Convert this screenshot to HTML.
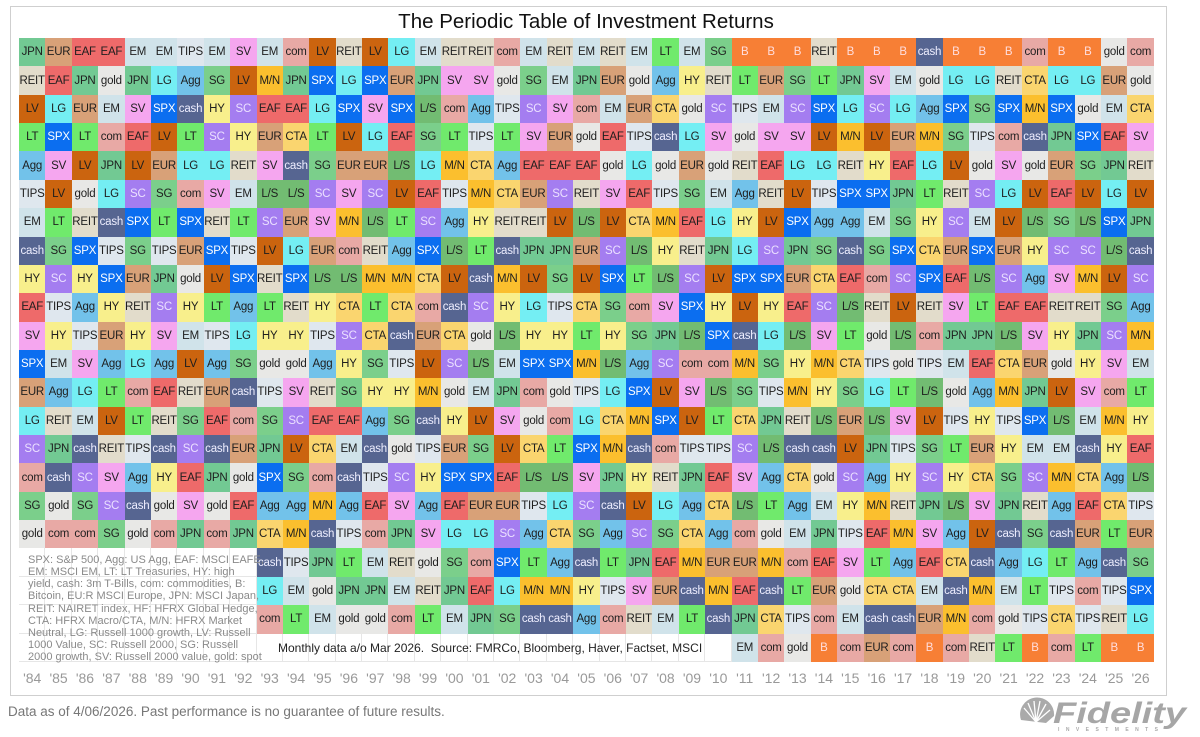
<!DOCTYPE html>
<html><head><meta charset="utf-8">
<style>
html,body{margin:0;padding:0;background:#fff;}
body{width:1200px;height:737px;position:relative;overflow:hidden;font-family:"Liberation Sans",Arial,sans-serif;}
.box{position:absolute;left:10px;top:6px;width:1155px;height:688px;border:1px solid #cfcfcf;}
.title{position:absolute;left:0;width:1172px;top:9px;text-align:center;font-size:20.5px;color:#111;line-height:26px;}
.g{position:absolute;left:19px;top:38px;display:grid;grid-template-columns:repeat(43,26.4px);grid-auto-rows:28.36px;}
.g i{font-style:normal;font-size:11.5px;color:#1e1e1e;display:flex;justify-content:center;align-items:center;white-space:nowrap;letter-spacing:-0.2px;}
.jp{background:#72c993}.sg{background:#7bcf8b}.ls{background:#72bc72}.lt{background:#70ea6c}
.em{background:#d0e3ea}.ti{background:#dfe7ee}.go{background:#e8e8e6}.re{background:#e2dccb}
.eu{background:#d8a178}.ea{background:#ee6a6a}.co{background:#e8a9a5}.sv{background:#f5a6ef}
.lv{background:#cb640f}.lg{background:#74eef3}.ag{background:#72c2ea}.mn{background:#fbbf2e}
.ct{background:#fad56f}.hy{background:#f8ef8c}
.g .sp{background:#0b6ef0;color:#fff}.g .ca{background:#566591;color:#eef}
.g .sc{background:#a47df0;color:#ebe0ff}.g .bt{background:#f77f35;color:#fdd}
.g .w{background:#fff;box-shadow:inset -1px -1px 0 #e6e6e6}
.legend{position:absolute;left:28px;top:554px;font-size:11px;line-height:12.15px;color:#8a8a8a;white-space:nowrap;}
.monthly{position:absolute;left:278px;top:639px;font-size:12px;line-height:18px;color:#222;white-space:pre;}
.yrs{position:absolute;left:19px;top:668px;display:grid;grid-template-columns:repeat(43,26.4px);}
.yrs span{text-align:center;font-size:14px;line-height:20px;color:#999;white-space:nowrap;}
.foot{position:absolute;left:8px;top:703px;font-size:13.5px;line-height:18px;color:#777;white-space:nowrap;}
</style></head><body>
<div class="box"></div>
<div class="title">The Periodic Table of Investment Returns</div>
<div class="g">
<i class=jp>JPN</i><i class=eu>EUR</i><i class=ea>EAF</i><i class=ea>EAF</i><i class=em>EM</i><i class=em>EM</i><i class=ti>TIPS</i><i class=em>EM</i><i class=sv>SV</i><i class=em>EM</i><i class=co>com</i><i class=lv>LV</i><i class=re>REIT</i><i class=lv>LV</i><i class=lg>LG</i><i class=em>EM</i><i class=re>REIT</i><i class=re>REIT</i><i class=co>com</i><i class=em>EM</i><i class=re>REIT</i><i class=em>EM</i><i class=re>REIT</i><i class=em>EM</i><i class=lt>LT</i><i class=em>EM</i><i class=sg>SG</i><i class=bt>B</i><i class=bt>B</i><i class=bt>B</i><i class=re>REIT</i><i class=bt>B</i><i class=bt>B</i><i class=bt>B</i><i class=ca>cash</i><i class=bt>B</i><i class=bt>B</i><i class=bt>B</i><i class=co>com</i><i class=bt>B</i><i class=bt>B</i><i class=go>gold</i><i class=co>com</i>
<i class=re>REIT</i><i class=ea>EAF</i><i class=jp>JPN</i><i class=go>gold</i><i class=jp>JPN</i><i class=lg>LG</i><i class=ag>Agg</i><i class=sg>SG</i><i class=lv>LV</i><i class=mn>M/N</i><i class=jp>JPN</i><i class=sp>SPX</i><i class=lg>LG</i><i class=sp>SPX</i><i class=eu>EUR</i><i class=jp>JPN</i><i class=sv>SV</i><i class=sv>SV</i><i class=go>gold</i><i class=sg>SG</i><i class=em>EM</i><i class=jp>JPN</i><i class=eu>EUR</i><i class=go>gold</i><i class=ag>Agg</i><i class=hy>HY</i><i class=re>REIT</i><i class=lt>LT</i><i class=eu>EUR</i><i class=sg>SG</i><i class=lt>LT</i><i class=jp>JPN</i><i class=sv>SV</i><i class=em>EM</i><i class=go>gold</i><i class=lg>LG</i><i class=lg>LG</i><i class=re>REIT</i><i class=ct>CTA</i><i class=lg>LG</i><i class=lg>LG</i><i class=eu>EUR</i><i class=go>gold</i>
<i class=lv>LV</i><i class=lg>LG</i><i class=eu>EUR</i><i class=em>EM</i><i class=sv>SV</i><i class=sp>SPX</i><i class=ca>cash</i><i class=hy>HY</i><i class=sc>SC</i><i class=ea>EAF</i><i class=ea>EAF</i><i class=lg>LG</i><i class=sp>SPX</i><i class=sv>SV</i><i class=sp>SPX</i><i class=ls>L/S</i><i class=co>com</i><i class=ag>Agg</i><i class=ti>TIPS</i><i class=sc>SC</i><i class=sv>SV</i><i class=co>com</i><i class=em>EM</i><i class=eu>EUR</i><i class=ct>CTA</i><i class=go>gold</i><i class=sc>SC</i><i class=ti>TIPS</i><i class=em>EM</i><i class=sc>SC</i><i class=sp>SPX</i><i class=lg>LG</i><i class=sc>SC</i><i class=lg>LG</i><i class=ag>Agg</i><i class=sp>SPX</i><i class=sg>SG</i><i class=sp>SPX</i><i class=mn>M/N</i><i class=sp>SPX</i><i class=go>gold</i><i class=em>EM</i><i class=ct>CTA</i>
<i class=lt>LT</i><i class=sp>SPX</i><i class=lt>LT</i><i class=co>com</i><i class=ea>EAF</i><i class=lv>LV</i><i class=lt>LT</i><i class=sc>SC</i><i class=hy>HY</i><i class=eu>EUR</i><i class=ct>CTA</i><i class=lt>LT</i><i class=lv>LV</i><i class=lg>LG</i><i class=ea>EAF</i><i class=sg>SG</i><i class=lt>LT</i><i class=ti>TIPS</i><i class=lt>LT</i><i class=sv>SV</i><i class=eu>EUR</i><i class=go>gold</i><i class=ea>EAF</i><i class=ti>TIPS</i><i class=ca>cash</i><i class=lg>LG</i><i class=sv>SV</i><i class=go>gold</i><i class=sv>SV</i><i class=sv>SV</i><i class=lv>LV</i><i class=mn>M/N</i><i class=lv>LV</i><i class=eu>EUR</i><i class=mn>M/N</i><i class=sg>SG</i><i class=ti>TIPS</i><i class=co>com</i><i class=ca>cash</i><i class=jp>JPN</i><i class=sp>SPX</i><i class=ea>EAF</i><i class=sv>SV</i>
<i class=ag>Agg</i><i class=sv>SV</i><i class=lv>LV</i><i class=jp>JPN</i><i class=lv>LV</i><i class=eu>EUR</i><i class=lg>LG</i><i class=lg>LG</i><i class=re>REIT</i><i class=sv>SV</i><i class=ca>cash</i><i class=sg>SG</i><i class=eu>EUR</i><i class=eu>EUR</i><i class=ls>L/S</i><i class=lg>LG</i><i class=mn>M/N</i><i class=ct>CTA</i><i class=ag>Agg</i><i class=ea>EAF</i><i class=ea>EAF</i><i class=ea>EAF</i><i class=go>gold</i><i class=lg>LG</i><i class=go>gold</i><i class=eu>EUR</i><i class=go>gold</i><i class=re>REIT</i><i class=ea>EAF</i><i class=lg>LG</i><i class=lg>LG</i><i class=re>REIT</i><i class=hy>HY</i><i class=ea>EAF</i><i class=lg>LG</i><i class=lv>LV</i><i class=go>gold</i><i class=sv>SV</i><i class=go>gold</i><i class=eu>EUR</i><i class=sg>SG</i><i class=jp>JPN</i><i class=re>REIT</i>
<i class=ti>TIPS</i><i class=lv>LV</i><i class=go>gold</i><i class=lg>LG</i><i class=sc>SC</i><i class=sg>SG</i><i class=co>com</i><i class=sv>SV</i><i class=em>EM</i><i class=ls>L/S</i><i class=ls>L/S</i><i class=sc>SC</i><i class=sv>SV</i><i class=sc>SC</i><i class=lv>LV</i><i class=ea>EAF</i><i class=ti>TIPS</i><i class=mn>M/N</i><i class=ct>CTA</i><i class=eu>EUR</i><i class=sc>SC</i><i class=re>REIT</i><i class=sv>SV</i><i class=ea>EAF</i><i class=ti>TIPS</i><i class=sg>SG</i><i class=em>EM</i><i class=ag>Agg</i><i class=re>REIT</i><i class=lv>LV</i><i class=ti>TIPS</i><i class=sp>SPX</i><i class=sp>SPX</i><i class=jp>JPN</i><i class=lt>LT</i><i class=re>REIT</i><i class=sc>SC</i><i class=lg>LG</i><i class=lv>LV</i><i class=ea>EAF</i><i class=lv>LV</i><i class=lg>LG</i><i class=lv>LV</i>
<i class=em>EM</i><i class=lt>LT</i><i class=re>REIT</i><i class=ca>cash</i><i class=sp>SPX</i><i class=lt>LT</i><i class=sp>SPX</i><i class=re>REIT</i><i class=lt>LT</i><i class=sc>SC</i><i class=eu>EUR</i><i class=sv>SV</i><i class=mn>M/N</i><i class=ls>L/S</i><i class=lt>LT</i><i class=sc>SC</i><i class=ag>Agg</i><i class=hy>HY</i><i class=re>REIT</i><i class=re>REIT</i><i class=lv>LV</i><i class=ls>L/S</i><i class=lv>LV</i><i class=ct>CTA</i><i class=mn>M/N</i><i class=ea>EAF</i><i class=lg>LG</i><i class=hy>HY</i><i class=lv>LV</i><i class=sp>SPX</i><i class=ag>Agg</i><i class=ag>Agg</i><i class=em>EM</i><i class=sg>SG</i><i class=hy>HY</i><i class=sc>SC</i><i class=em>EM</i><i class=lv>LV</i><i class=ls>L/S</i><i class=sg>SG</i><i class=ls>L/S</i><i class=sp>SPX</i><i class=jp>JPN</i>
<i class=ca>cash</i><i class=sg>SG</i><i class=sp>SPX</i><i class=ti>TIPS</i><i class=sg>SG</i><i class=ti>TIPS</i><i class=eu>EUR</i><i class=sp>SPX</i><i class=ti>TIPS</i><i class=lv>LV</i><i class=lg>LG</i><i class=eu>EUR</i><i class=co>com</i><i class=re>REIT</i><i class=ag>Agg</i><i class=sp>SPX</i><i class=ls>L/S</i><i class=lt>LT</i><i class=ca>cash</i><i class=jp>JPN</i><i class=jp>JPN</i><i class=eu>EUR</i><i class=sc>SC</i><i class=ls>L/S</i><i class=hy>HY</i><i class=re>REIT</i><i class=jp>JPN</i><i class=lg>LG</i><i class=sc>SC</i><i class=jp>JPN</i><i class=sg>SG</i><i class=ca>cash</i><i class=sg>SG</i><i class=sp>SPX</i><i class=ct>CTA</i><i class=eu>EUR</i><i class=sp>SPX</i><i class=eu>EUR</i><i class=hy>HY</i><i class=sc>SC</i><i class=sc>SC</i><i class=ls>L/S</i><i class=ca>cash</i>
<i class=hy>HY</i><i class=sc>SC</i><i class=hy>HY</i><i class=sp>SPX</i><i class=eu>EUR</i><i class=jp>JPN</i><i class=go>gold</i><i class=lv>LV</i><i class=sp>SPX</i><i class=re>REIT</i><i class=sp>SPX</i><i class=ls>L/S</i><i class=ls>L/S</i><i class=mn>M/N</i><i class=mn>M/N</i><i class=ct>CTA</i><i class=lv>LV</i><i class=ca>cash</i><i class=mn>M/N</i><i class=lv>LV</i><i class=sg>SG</i><i class=lv>LV</i><i class=sp>SPX</i><i class=lt>LT</i><i class=ls>L/S</i><i class=sc>SC</i><i class=lv>LV</i><i class=sp>SPX</i><i class=sp>SPX</i><i class=eu>EUR</i><i class=ct>CTA</i><i class=ea>EAF</i><i class=co>com</i><i class=sc>SC</i><i class=sp>SPX</i><i class=ea>EAF</i><i class=ls>L/S</i><i class=sc>SC</i><i class=ag>Agg</i><i class=sv>SV</i><i class=mn>M/N</i><i class=lv>LV</i><i class=sc>SC</i>
<i class=ea>EAF</i><i class=ti>TIPS</i><i class=ag>Agg</i><i class=hy>HY</i><i class=re>REIT</i><i class=sc>SC</i><i class=hy>HY</i><i class=lt>LT</i><i class=ag>Agg</i><i class=lt>LT</i><i class=re>REIT</i><i class=hy>HY</i><i class=ct>CTA</i><i class=lt>LT</i><i class=ct>CTA</i><i class=co>com</i><i class=ca>cash</i><i class=sc>SC</i><i class=hy>HY</i><i class=lg>LG</i><i class=ti>TIPS</i><i class=ct>CTA</i><i class=sg>SG</i><i class=co>com</i><i class=sv>SV</i><i class=sp>SPX</i><i class=hy>HY</i><i class=lv>LV</i><i class=hy>HY</i><i class=ea>EAF</i><i class=sc>SC</i><i class=ls>L/S</i><i class=re>REIT</i><i class=lv>LV</i><i class=re>REIT</i><i class=sv>SV</i><i class=lt>LT</i><i class=ea>EAF</i><i class=ea>EAF</i><i class=re>REIT</i><i class=re>REIT</i><i class=sg>SG</i><i class=ag>Agg</i>
<i class=sv>SV</i><i class=hy>HY</i><i class=ti>TIPS</i><i class=eu>EUR</i><i class=hy>HY</i><i class=sv>SV</i><i class=em>EM</i><i class=ti>TIPS</i><i class=lg>LG</i><i class=hy>HY</i><i class=hy>HY</i><i class=ti>TIPS</i><i class=sc>SC</i><i class=ct>CTA</i><i class=ca>cash</i><i class=eu>EUR</i><i class=ct>CTA</i><i class=go>gold</i><i class=ls>L/S</i><i class=hy>HY</i><i class=hy>HY</i><i class=lt>LT</i><i class=hy>HY</i><i class=sg>SG</i><i class=jp>JPN</i><i class=ls>L/S</i><i class=sp>SPX</i><i class=ca>cash</i><i class=lg>LG</i><i class=ls>L/S</i><i class=sv>SV</i><i class=lt>LT</i><i class=go>gold</i><i class=ls>L/S</i><i class=co>com</i><i class=jp>JPN</i><i class=jp>JPN</i><i class=ls>L/S</i><i class=sv>SV</i><i class=hy>HY</i><i class=jp>JPN</i><i class=sc>SC</i><i class=mn>M/N</i>
<i class=sp>SPX</i><i class=em>EM</i><i class=sv>SV</i><i class=ag>Agg</i><i class=lg>LG</i><i class=ag>Agg</i><i class=lv>LV</i><i class=ag>Agg</i><i class=sg>SG</i><i class=go>gold</i><i class=go>gold</i><i class=ag>Agg</i><i class=hy>HY</i><i class=sg>SG</i><i class=ti>TIPS</i><i class=lv>LV</i><i class=sc>SC</i><i class=ls>L/S</i><i class=em>EM</i><i class=sp>SPX</i><i class=sp>SPX</i><i class=mn>M/N</i><i class=ls>L/S</i><i class=ag>Agg</i><i class=sc>SC</i><i class=co>com</i><i class=co>com</i><i class=mn>M/N</i><i class=sg>SG</i><i class=hy>HY</i><i class=mn>M/N</i><i class=ct>CTA</i><i class=ti>TIPS</i><i class=go>gold</i><i class=ti>TIPS</i><i class=em>EM</i><i class=ea>EAF</i><i class=ct>CTA</i><i class=eu>EUR</i><i class=go>gold</i><i class=hy>HY</i><i class=sv>SV</i><i class=em>EM</i>
<i class=eu>EUR</i><i class=ag>Agg</i><i class=lg>LG</i><i class=lt>LT</i><i class=co>com</i><i class=ea>EAF</i><i class=re>REIT</i><i class=eu>EUR</i><i class=ca>cash</i><i class=ti>TIPS</i><i class=sv>SV</i><i class=re>REIT</i><i class=sg>SG</i><i class=hy>HY</i><i class=hy>HY</i><i class=mn>M/N</i><i class=go>gold</i><i class=em>EM</i><i class=jp>JPN</i><i class=co>com</i><i class=go>gold</i><i class=ti>TIPS</i><i class=lg>LG</i><i class=sp>SPX</i><i class=lv>LV</i><i class=sv>SV</i><i class=ls>L/S</i><i class=sg>SG</i><i class=ti>TIPS</i><i class=mn>M/N</i><i class=hy>HY</i><i class=sg>SG</i><i class=lg>LG</i><i class=lt>LT</i><i class=ls>L/S</i><i class=go>gold</i><i class=ag>Agg</i><i class=mn>M/N</i><i class=jp>JPN</i><i class=lv>LV</i><i class=sv>SV</i><i class=co>com</i><i class=lt>LT</i>
<i class=lg>LG</i><i class=re>REIT</i><i class=em>EM</i><i class=lv>LV</i><i class=lt>LT</i><i class=re>REIT</i><i class=sg>SG</i><i class=ea>EAF</i><i class=co>com</i><i class=sg>SG</i><i class=sc>SC</i><i class=ea>EAF</i><i class=ea>EAF</i><i class=ag>Agg</i><i class=sg>SG</i><i class=ca>cash</i><i class=hy>HY</i><i class=lv>LV</i><i class=sv>SV</i><i class=go>gold</i><i class=co>com</i><i class=lg>LG</i><i class=ct>CTA</i><i class=mn>M/N</i><i class=sp>SPX</i><i class=lv>LV</i><i class=lt>LT</i><i class=ct>CTA</i><i class=jp>JPN</i><i class=re>REIT</i><i class=ls>L/S</i><i class=eu>EUR</i><i class=ls>L/S</i><i class=sv>SV</i><i class=lv>LV</i><i class=ti>TIPS</i><i class=hy>HY</i><i class=ti>TIPS</i><i class=sp>SPX</i><i class=ls>L/S</i><i class=em>EM</i><i class=mn>M/N</i><i class=hy>HY</i>
<i class=sc>SC</i><i class=jp>JPN</i><i class=ca>cash</i><i class=re>REIT</i><i class=ti>TIPS</i><i class=ca>cash</i><i class=sc>SC</i><i class=ca>cash</i><i class=eu>EUR</i><i class=jp>JPN</i><i class=lv>LV</i><i class=ct>CTA</i><i class=em>EM</i><i class=ca>cash</i><i class=go>gold</i><i class=ti>TIPS</i><i class=eu>EUR</i><i class=sg>SG</i><i class=lv>LV</i><i class=ct>CTA</i><i class=lt>LT</i><i class=sp>SPX</i><i class=mn>M/N</i><i class=ca>cash</i><i class=co>com</i><i class=ti>TIPS</i><i class=ti>TIPS</i><i class=sc>SC</i><i class=ls>L/S</i><i class=ca>cash</i><i class=ca>cash</i><i class=lv>LV</i><i class=jp>JPN</i><i class=ti>TIPS</i><i class=sg>SG</i><i class=lt>LT</i><i class=eu>EUR</i><i class=hy>HY</i><i class=em>EM</i><i class=em>EM</i><i class=ca>cash</i><i class=hy>HY</i><i class=ea>EAF</i>
<i class=co>com</i><i class=ca>cash</i><i class=sc>SC</i><i class=sv>SV</i><i class=ag>Agg</i><i class=hy>HY</i><i class=ea>EAF</i><i class=jp>JPN</i><i class=go>gold</i><i class=sp>SPX</i><i class=sg>SG</i><i class=co>com</i><i class=ca>cash</i><i class=ti>TIPS</i><i class=sc>SC</i><i class=hy>HY</i><i class=sp>SPX</i><i class=sp>SPX</i><i class=ea>EAF</i><i class=ls>L/S</i><i class=ls>L/S</i><i class=sv>SV</i><i class=jp>JPN</i><i class=hy>HY</i><i class=re>REIT</i><i class=jp>JPN</i><i class=ea>EAF</i><i class=sv>SV</i><i class=ag>Agg</i><i class=ct>CTA</i><i class=go>gold</i><i class=sc>SC</i><i class=ag>Agg</i><i class=hy>HY</i><i class=sc>SC</i><i class=hy>HY</i><i class=ct>CTA</i><i class=sg>SG</i><i class=sc>SC</i><i class=mn>M/N</i><i class=ct>CTA</i><i class=ag>Agg</i><i class=ls>L/S</i>
<i class=sg>SG</i><i class=go>gold</i><i class=sg>SG</i><i class=sc>SC</i><i class=ca>cash</i><i class=go>gold</i><i class=sv>SV</i><i class=go>gold</i><i class=ea>EAF</i><i class=ag>Agg</i><i class=ag>Agg</i><i class=mn>M/N</i><i class=ag>Agg</i><i class=ea>EAF</i><i class=sv>SV</i><i class=ag>Agg</i><i class=ea>EAF</i><i class=eu>EUR</i><i class=eu>EUR</i><i class=ti>TIPS</i><i class=lg>LG</i><i class=sc>SC</i><i class=ca>cash</i><i class=lv>LV</i><i class=lg>LG</i><i class=ag>Agg</i><i class=ct>CTA</i><i class=ls>L/S</i><i class=lt>LT</i><i class=ag>Agg</i><i class=em>EM</i><i class=hy>HY</i><i class=mn>M/N</i><i class=re>REIT</i><i class=jp>JPN</i><i class=ls>L/S</i><i class=sv>SV</i><i class=jp>JPN</i><i class=re>REIT</i><i class=ag>Agg</i><i class=ea>EAF</i><i class=ct>CTA</i><i class=ti>TIPS</i>
<i class=go>gold</i><i class=co>com</i><i class=co>com</i><i class=sg>SG</i><i class=go>gold</i><i class=co>com</i><i class=jp>JPN</i><i class=co>com</i><i class=jp>JPN</i><i class=ct>CTA</i><i class=mn>M/N</i><i class=ca>cash</i><i class=ti>TIPS</i><i class=co>com</i><i class=jp>JPN</i><i class=sv>SV</i><i class=lg>LG</i><i class=lg>LG</i><i class=sc>SC</i><i class=ag>Agg</i><i class=ct>CTA</i><i class=sg>SG</i><i class=ag>Agg</i><i class=sc>SC</i><i class=sg>SG</i><i class=ct>CTA</i><i class=ag>Agg</i><i class=co>com</i><i class=go>gold</i><i class=em>EM</i><i class=jp>JPN</i><i class=ti>TIPS</i><i class=ea>EAF</i><i class=mn>M/N</i><i class=sv>SV</i><i class=ag>Agg</i><i class=lv>LV</i><i class=ca>cash</i><i class=sg>SG</i><i class=ca>cash</i><i class=eu>EUR</i><i class=lt>LT</i><i class=eu>EUR</i>
<i class=w></i><i class=w></i><i class=w></i><i class=w></i><i class=w></i><i class=w></i><i class=w></i><i class=w></i><i class=w></i><i class=ca>cash</i><i class=ti>TIPS</i><i class=jp>JPN</i><i class=lt>LT</i><i class=em>EM</i><i class=re>REIT</i><i class=go>gold</i><i class=sg>SG</i><i class=co>com</i><i class=sp>SPX</i><i class=lt>LT</i><i class=ag>Agg</i><i class=ca>cash</i><i class=lt>LT</i><i class=jp>JPN</i><i class=ea>EAF</i><i class=mn>M/N</i><i class=eu>EUR</i><i class=eu>EUR</i><i class=mn>M/N</i><i class=co>com</i><i class=ea>EAF</i><i class=sv>SV</i><i class=lt>LT</i><i class=ag>Agg</i><i class=ea>EAF</i><i class=ct>CTA</i><i class=ca>cash</i><i class=ag>Agg</i><i class=lg>LG</i><i class=lt>LT</i><i class=ag>Agg</i><i class=ca>cash</i><i class=sg>SG</i>
<i class=w></i><i class=w></i><i class=w></i><i class=w></i><i class=w></i><i class=w></i><i class=w></i><i class=w></i><i class=w></i><i class=lg>LG</i><i class=em>EM</i><i class=go>gold</i><i class=jp>JPN</i><i class=jp>JPN</i><i class=em>EM</i><i class=re>REIT</i><i class=jp>JPN</i><i class=ea>EAF</i><i class=lg>LG</i><i class=mn>M/N</i><i class=mn>M/N</i><i class=hy>HY</i><i class=ti>TIPS</i><i class=sv>SV</i><i class=eu>EUR</i><i class=ca>cash</i><i class=mn>M/N</i><i class=ea>EAF</i><i class=ca>cash</i><i class=lt>LT</i><i class=eu>EUR</i><i class=go>gold</i><i class=ct>CTA</i><i class=ct>CTA</i><i class=em>EM</i><i class=ca>cash</i><i class=mn>M/N</i><i class=em>EM</i><i class=lt>LT</i><i class=ti>TIPS</i><i class=co>com</i><i class=ti>TIPS</i><i class=sp>SPX</i>
<i class=w></i><i class=w></i><i class=w></i><i class=w></i><i class=w></i><i class=w></i><i class=w></i><i class=w></i><i class=w></i><i class=co>com</i><i class=lt>LT</i><i class=em>EM</i><i class=go>gold</i><i class=go>gold</i><i class=co>com</i><i class=lt>LT</i><i class=em>EM</i><i class=jp>JPN</i><i class=sg>SG</i><i class=ca>cash</i><i class=ca>cash</i><i class=ag>Agg</i><i class=co>com</i><i class=re>REIT</i><i class=em>EM</i><i class=lt>LT</i><i class=ca>cash</i><i class=jp>JPN</i><i class=ct>CTA</i><i class=ti>TIPS</i><i class=co>com</i><i class=em>EM</i><i class=ca>cash</i><i class=ca>cash</i><i class=eu>EUR</i><i class=mn>M/N</i><i class=co>com</i><i class=go>gold</i><i class=ti>TIPS</i><i class=ct>CTA</i><i class=ti>TIPS</i><i class=re>REIT</i><i class=lg>LG</i>
<i class=w></i><i class=w></i><i class=w></i><i class=w></i><i class=w></i><i class=w></i><i class=w></i><i class=w></i><i class=w></i><i class=w></i><i class=w></i><i class=w></i><i class=w></i><i class=w></i><i class=w></i><i class=w></i><i class=w></i><i class=w></i><i class=w></i><i class=w></i><i class=w></i><i class=w></i><i class=w></i><i class=w></i><i class=w></i><i class=w></i><i class=w></i><i class=em>EM</i><i class=co>com</i><i class=go>gold</i><i class=bt>B</i><i class=co>com</i><i class=eu>EUR</i><i class=co>com</i><i class=bt>B</i><i class=co>com</i><i class=re>REIT</i><i class=lt>LT</i><i class=bt>B</i><i class=co>com</i><i class=lt>LT</i><i class=bt>B</i><i class=bt>B</i>
</div>
<div class="legend">SPX: S&amp;P 500, Agg: US Agg, EAF: MSCI EAFE,<br>EM: MSCI EM, LT: LT Treasuries, HY: high<br>yield, cash: 3m T-Bills, com: commodities, B:<br>Bitcoin, EU:R MSCI Europe, JPN: MSCI Japan,<br>REIT: NAIRET index, HF: HFRX Global Hedge,<br>CTA: HFRX Macro/CTA, M/N: HFRX Market<br>Neutral, LG: Russell 1000 growth, LV: Russell<br>1000 Value, SC: Russell 2000, SG: Russell<br>2000 growth, SV: Russell 2000 value, gold: spot</div>
<div class="monthly">Monthly data a/o Mar 2026.  Source: FMRCo, Bloomberg, Haver, Factset, MSCI</div>
<div class="yrs"><span>'84</span><span>'85</span><span>'86</span><span>'87</span><span>'88</span><span>'89</span><span>'90</span><span>'91</span><span>'92</span><span>'93</span><span>'94</span><span>'95</span><span>'96</span><span>'97</span><span>'98</span><span>'99</span><span>'00</span><span>'01</span><span>'02</span><span>'03</span><span>'04</span><span>'05</span><span>'06</span><span>'07</span><span>'08</span><span>'09</span><span>'10</span><span>'11</span><span>'12</span><span>'13</span><span>'14</span><span>'15</span><span>'16</span><span>'17</span><span>'18</span><span>'19</span><span>'20</span><span>'21</span><span>'22</span><span>'23</span><span>'24</span><span>'25</span><span>'26</span></div>
<div class="foot">Data as of 4/06/2026. Past performance is no guarantee of future results.</div>
<svg style="position:absolute;left:0;top:0" width="1200" height="737" viewBox="0 0 1200 737">
<g fill="#aaaaaa">
<path d="M1021 720 A17 17 0 1 1 1054 716 L1046 723 Z"/>
</g>
<g stroke="#fff" stroke-width="1.3" fill="none">
<line x1="1036" y1="722" x2="1024" y2="708"/>
<line x1="1036" y1="722" x2="1028" y2="703"/>
<line x1="1036" y1="722" x2="1034" y2="701"/>
<line x1="1036" y1="722" x2="1040" y2="701"/>
<line x1="1036" y1="722" x2="1046" y2="704"/>
<line x1="1036" y1="722" x2="1050" y2="710"/>
</g>
<text x="1053" y="723" font-family="Liberation Sans, Arial, sans-serif" font-size="30" font-weight="bold" font-style="italic" fill="#a6a6a6" textLength="133" lengthAdjust="spacingAndGlyphs">Fidelity</text>
<text x="1058" y="731" font-family="Liberation Sans, Arial, sans-serif" font-size="5" font-weight="bold" fill="#aaaaaa" textLength="100" lengthAdjust="spacing">INVESTMENTS</text>
</svg>
</body></html>
